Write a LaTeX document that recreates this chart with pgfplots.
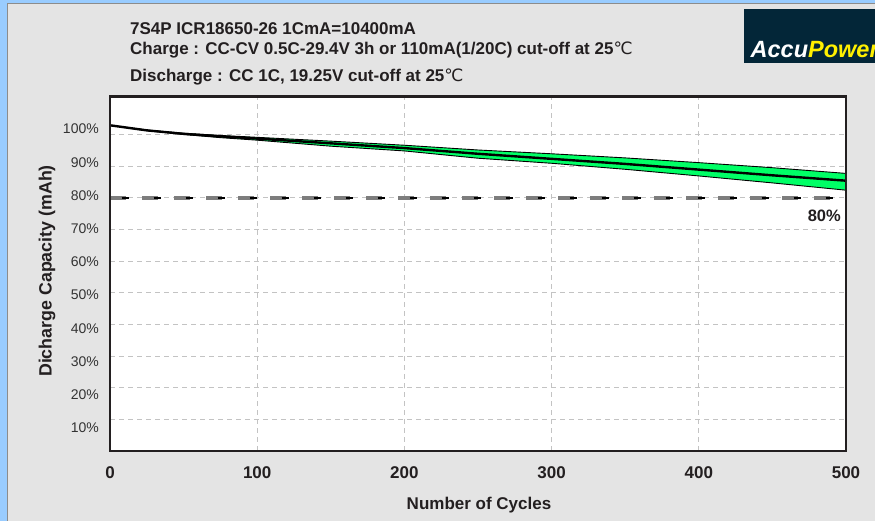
\documentclass[border=0pt]{standalone}
\usepackage{pgfplots}
\pgfplotsset{compat=1.18}
\usepackage{fontspec}
\setmainfont{Liberation Sans}
\newfontfamily\dejavu{DejaVu Sans}
\definecolor{bgblue}{RGB}{153,204,255}
\definecolor{bggray}{RGB}{228,228,228}
\definecolor{bandgreen}{RGB}{0,255,102}
\definecolor{logoblue}{RGB}{3,38,56}
\definecolor{logoyellow}{RGB}{255,240,0}
\definecolor{gridgray}{RGB}{195,195,195}
\definecolor{axisblack}{RGB}{35,31,32}
\definecolor{ticktext}{RGB}{51,51,51}
\definecolor{dashgray}{RGB}{125,125,125}
\begin{document}
\begin{tikzpicture}
\useasboundingbox (0bp,0bp) rectangle (875bp,521bp);
\clip (0bp,0bp) rectangle (875bp,521bp);
\begin{scope}[x=1bp,y=1bp]
\fill[bgblue] (0,0) rectangle (875,521);
\fill[bggray] (6.5,0) rectangle (875,518);
\draw[black!45, line width=0.8bp] (7,0) -- (7,517.6) -- (875,517.6);
% logo
\fill[logoblue] (744,458) rectangle (880,512);
\node[anchor=base west, inner sep=0pt, font=\fontsize{23.5bp}{23.5bp}\selectfont\bfseries\itshape] at (750.5,463.5) {\textcolor{white}{Accu}\textcolor{logoyellow}{Power}};
% titles
\node[anchor=base west, inner sep=0pt, font=\fontsize{17bp}{19bp}\selectfont\bfseries, text=axisblack] at (130,486) {7S4P ICR18650-26 1CmA=10400mA};
\node[anchor=base west, inner sep=0pt, font=\fontsize{17bp}{19bp}\selectfont\bfseries, text=axisblack] at (130,466) {Charge : CC-CV 0.5C-29.4V 3h or 110mA(1/20C) cut-off at 25{\dejavu\mdseries ℃}};
\node[anchor=base west, inner sep=0pt, font=\fontsize{17bp}{19bp}\selectfont\bfseries, text=axisblack] at (130,439.5) {Discharge : CC 1C, 19.25V cut-off at 25{\dejavu\mdseries ℃}};
\end{scope}
\begin{axis}[
  at={(110bp,70bp)}, anchor=south west,
  width=736bp, height=354.5bp, scale only axis,
  xmin=0, xmax=500, ymin=0, ymax=112,
  xtick={0,100,200,300,400,500},
  xticklabels={0,100,200,300,400,500},
  ytick={7.27,17.76,28.25,38.74,49.23,59.72,70.21,80.70,91.19,101.68},
  yticklabels={10\%,20\%,30\%,40\%,50\%,60\%,70\%,80\%,90\%,100\%},
  minor ytick={10,20,30,40,50,60,70,80,90,100},
  xmajorgrids=true, ymajorgrids=false, yminorgrids=true,
  major grid style={gridgray, line width=0.9bp, dash pattern=on 5bp off 4bp},
  minor grid style={gridgray, line width=0.9bp, dash pattern=on 5bp off 4bp},
  axis line style={axisblack, line width=2.5bp},
  major tick length=0pt, minor tick length=0pt,
  tick style={draw=none},
  axis background/.style={fill=white},
  xticklabel style={anchor=base, inner sep=0pt, yshift=-28bp, font=\fontsize{17bp}{17bp}\selectfont\bfseries, text=axisblack},
  yticklabel style={anchor=east, inner sep=0pt, xshift=-11bp, font=\fontsize{14bp}{14bp}\selectfont, text=ticktext},
  clip=true,
]
% 80% reference line
\addplot[dashgray, line width=4bp, dash pattern=on 16bp off 16bp] coordinates {(0,80) (500,80)};
\addplot[black, line width=1.8bp, dash pattern=on 7bp off 25bp, dash phase=20.5bp] coordinates {(0,80) (500,80)};
% band (upper then lower reversed)
\addplot[fill=bandgreen, draw=black, line width=0.9bp] coordinates {
 (0,102.9) (25,101.4) (50,100.4) (75,99.7) (100,99.1) (150,97.9) (200,96.6) (250,95.1) (300,93.9) (350,92.6) (400,91.1) (450,89.5) (500,87.7)
 (500,82.4) (450,84.7) (400,86.9) (350,89.0) (300,90.9) (250,92.5) (200,94.8) (150,96.3) (100,98.2) (75,99.0) (50,100.0) (25,101.2) (0,102.9)
} -- cycle;
% center line
\addplot[black, line width=2.4bp] coordinates {
 (0,102.9) (25,101.3) (50,100.2) (75,99.4) (100,98.7) (150,97.2) (200,95.7) (250,93.9) (300,92.3) (350,90.7) (400,88.9) (450,87.1) (500,85.4)
};
\draw[axisblack, line width=2.5bp] (rel axis cs:0,0) rectangle (rel axis cs:1,1);
\end{axis}
\begin{scope}[x=1bp,y=1bp]
\node[anchor=base east, inner sep=0pt, font=\fontsize{16.5bp}{16.5bp}\selectfont\bfseries, text=axisblack] at (841,300) {80\%};
\node[anchor=base, inner sep=0pt, font=\fontsize{17bp}{17bp}\selectfont\bfseries, text=axisblack] at (479,12) {Number of Cycles};
\node[anchor=center, inner sep=0pt, rotate=90, font=\fontsize{17.8bp}{17.8bp}\selectfont\bfseries, text=axisblack] at (47,250) {Dicharge Capacity (mAh)};
\end{scope}
\end{tikzpicture}
\end{document}
